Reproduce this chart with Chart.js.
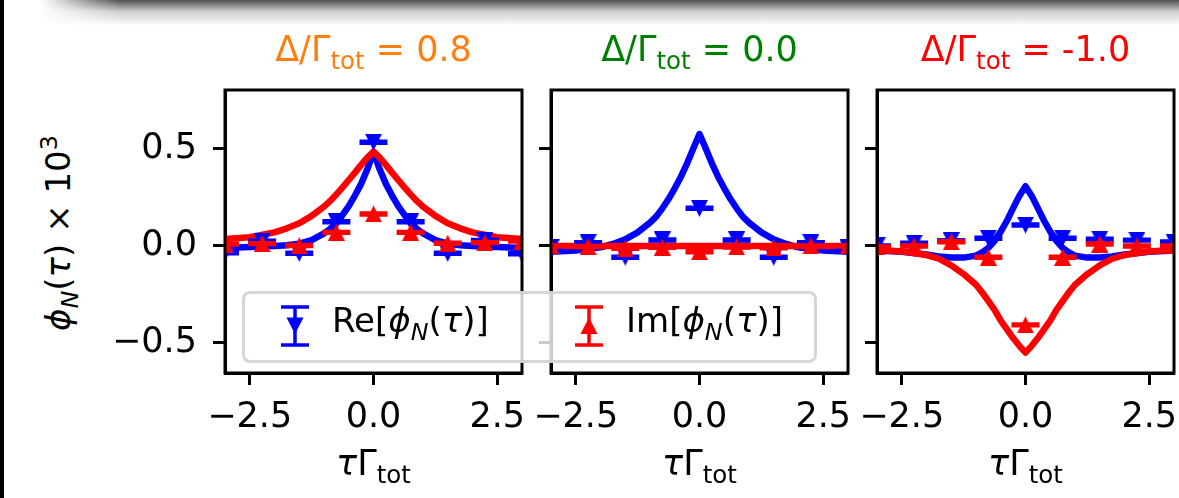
<!DOCTYPE html>
<html>
<head>
<meta charset="utf-8">
<title>phi_N(tau) vs tau Gamma_tot</title>
<script src="https://cdn.jsdelivr.net/npm/chart.js"></script>
<style>
    body { margin:0; width:1179px; height:498px; overflow:hidden; background:#fff; position:relative; font-family:'DejaVu Sans', sans-serif; color:#000; }
    canvas { position:absolute; top:0; }
    .edge { position:absolute; left:0; top:0; width:4px; height:498px; background:#000; }
    .shadow { position:absolute; left:40px; top:0; width:1139px; height:26px;
              background:linear-gradient(to bottom, rgba(60,60,60,0.9), rgba(160,160,160,0.5) 45%, rgba(255,255,255,0));
              -webkit-mask-image:linear-gradient(to right, transparent, #000 80px); }
    .title, .xlab { position:absolute; font-size:35px; line-height:35px; white-space:nowrap; transform:translateX(-50%); }
    .title { top:32px; }
    .xlab { top:446px; }
    .sub { font-size:0.7em; position:relative; top:0.32em; }
    .ylab { position:absolute; left:60px; top:233px; font-size:34px; line-height:34px; white-space:nowrap;
            transform:translate(-50%,-50%) rotate(-90deg); }
    .sup { font-size:0.7em; position:relative; top:-0.55em; }
    .legend { position:absolute; left:242px; top:291px; width:575px; height:72px; box-sizing:border-box;
              border:3px solid rgba(204,204,204,0.8); border-radius:8px; background:rgba(255,255,255,0.8); z-index:5; }
    .legend svg { position:absolute; top:11px; }
    .legend .lt { position:absolute; top:9px; font-size:34px; line-height:34px; white-space:nowrap; }
</style>
</head>
<body>
<div class="edge"></div>
<div class="shadow"></div>
<div class="ylab"><i>ϕ</i><i class="sub">N</i>(<i>τ</i>) × 10<span class="sup">3</span></div>
<div class="legend">
    <svg style="left:36px" width="28" height="42">
        <g stroke="#0000ff" stroke-width="3.5"><line x1="14" y1="2" x2="14" y2="40"/><line x1="0" y1="2" x2="28" y2="2"/><line x1="0" y1="40" x2="28" y2="40"/></g>
        <polygon points="5.5,12.5 22.5,12.5 14,29" fill="#0000ff"/>
    </svg>
    <span class="lt" style="left:87px">Re[<i>ϕ</i><i class="sub">N</i>(<i>τ</i>)]</span>
    <svg style="left:330px" width="28" height="42">
        <g stroke="#ff0000" stroke-width="3.5"><line x1="14" y1="2" x2="14" y2="40"/><line x1="0" y1="2" x2="28" y2="2"/><line x1="0" y1="40" x2="28" y2="40"/></g>
        <polygon points="14,12.5 5.5,29 22.5,29" fill="#ff0000"/>
    </svg>
    <span class="lt" style="left:381px">Im[<i>ϕ</i><i class="sub">N</i>(<i>τ</i>)]</span>
</div>
<script>
    // Valeurs (unités : tau*Gamma_tot, phi_N * 1e3)
    const detuning = [0.8, 0.0, -1.0];
    const xTicks = [-2.5, 0, 2.5];
    const xTickLabels = ['\u22122.5', '0.0', '2.5'];
    const yTicks = [-0.5, 0, 0.5];
    const yTickLabels = ['\u22120.5', '0.0', '0.5'];

    // courbes théoriques
    const xFit = [-3, -2.5, -2, -1.75, -1.5, -1.25, -1, -0.875, -0.75, -0.625, -0.5, -0.375, -0.25, -0.125, 0,
                  0.125, 0.25, 0.375, 0.5, 0.625, 0.75, 0.875, 1, 1.25, 1.5, 1.75, 2, 2.5, 3];
    const reFit1 = [-0.01, -0.005, 0.0, 0.004, 0.012, 0.03, 0.065, 0.088, 0.12, 0.16, 0.205, 0.26, 0.32, 0.395, 0.485,
                    0.395, 0.32, 0.26, 0.205, 0.16, 0.12, 0.088, 0.065, 0.03, 0.012, 0.004, 0.0, -0.005, -0.01];
    const imFit1 = [0.036, 0.045, 0.07, 0.091, 0.117, 0.155, 0.203, 0.232, 0.266, 0.302, 0.34, 0.378, 0.418, 0.455, 0.486,
                    0.455, 0.418, 0.378, 0.34, 0.302, 0.266, 0.232, 0.203, 0.155, 0.117, 0.091, 0.07, 0.045, 0.036];
    const reFit2 = [-0.03, -0.024, -0.007, 0.01, 0.034, 0.07, 0.12, 0.151, 0.194, 0.242, 0.297, 0.357, 0.426, 0.503, 0.577,
                    0.503, 0.426, 0.357, 0.297, 0.242, 0.194, 0.151, 0.12, 0.07, 0.034, 0.01, -0.007, -0.024, -0.03];
    const imFit2 = [0, 0, 0, 0, 0, 0, 0, 0, 0, 0, 0, 0, 0, 0, 0,
                    0, 0, 0, 0, 0, 0, 0, 0, 0, 0, 0, 0, 0, 0];
    const reFit3 = [-0.023, -0.03, -0.044, -0.054, -0.06, -0.06, -0.05, -0.033, -0.01, 0.026, 0.074, 0.13, 0.195, 0.258, 0.308,
                    0.258, 0.195, 0.13, 0.074, 0.026, -0.01, -0.033, -0.05, -0.06, -0.06, -0.054, -0.044, -0.03, -0.023];
    const imFit3 = [-0.02, -0.028, -0.047, -0.066, -0.1, -0.145, -0.2, -0.24, -0.285, -0.33, -0.385, -0.43, -0.475, -0.515, -0.55,
                    -0.515, -0.475, -0.43, -0.385, -0.33, -0.285, -0.24, -0.2, -0.145, -0.1, -0.066, -0.047, -0.028, -0.02];

    // points simulés + barres d'erreur
    const xData = [-3, -2.25, -1.5, -0.75, 0, 0.75, 1.5, 2.25, 3];
    const reData1 = [-0.035, 0.025, -0.038, 0.125, 0.535, 0.125, -0.038, 0.028, -0.04];
    const imData1 = [0.01, 0.012, 0.002, 0.07, 0.165, 0.07, 0.014, 0.017, 0.025];
    const reData2 = [-0.01, 0.017, -0.058, 0.031, 0.194, 0.031, -0.058, 0.017, -0.01];
    const imData2 = [0.0, -0.003, -0.012, -0.007, -0.03, -0.005, -0.01, 0.0, 0.0];
    const reData3 = [0.0, 0.014, 0.027, 0.04, 0.108, 0.04, 0.035, 0.03, 0.02];
    const imData3 = [-0.005, 0.0, 0.022, -0.058, -0.407, -0.058, 0.01, 0.0, 0.0];
    const reErr1 = [0.005, 0.005, 0.005, 0.005, 0.005, 0.005, 0.005, 0.005, 0.005];
    const imErr1 = [0.005, 0.005, 0.005, 0.005, 0.005, 0.005, 0.005, 0.005, 0.005];
    const reErr2 = [0.005, 0.005, 0.005, 0.005, 0.005, 0.005, 0.005, 0.005, 0.005];
    const imErr2 = [0.005, 0.005, 0.005, 0.005, 0.005, 0.005, 0.005, 0.005, 0.005];
    const reErr3 = [0.005, 0.005, 0.005, 0.005, 0.005, 0.005, 0.005, 0.005, 0.005];
    const imErr3 = [0.005, 0.005, 0.005, 0.005, 0.005, 0.005, 0.005, 0.005, 0.005];

    const panels = [
        {reFit: reFit1, imFit: imFit1, reData: reData1, imData: imData1, reErr: reErr1, imErr: imErr1},
        {reFit: reFit2, imFit: imFit2, reData: reData2, imData: imData2, reErr: reErr2, imErr: imErr2},
        {reFit: reFit3, imFit: imFit3, reData: reData3, imData: imData3, reErr: reErr3, imErr: imErr3}
    ];

    // mise en page
    const BLUE = '#0000ff', RED = '#ff0000';
    const titleColors = ['#ff7f0e', '#008000', '#ff0000'];
    const plotLefts = [225, 551, 877];
    const PLOT_W = 297, PLOT_TOP = 90, PLOT_BOTTOM = 373, AXIS_W = 130, PAD_R = 40, H = 498;

    Chart.defaults.font.family = "'DejaVu Sans', sans-serif";
    Chart.defaults.font.size = 35;
    Chart.defaults.color = '#000';

    // marqueurs triangle façon matplotlib (centrés sur la boîte englobante)
    function triangle(color, up) {
        const c = document.createElement('canvas');
        c.width = 17; c.height = 17;
        const g = c.getContext('2d');
        g.fillStyle = color;
        g.beginPath();
        if (up) { g.moveTo(8.5, 0); g.lineTo(17, 17); g.lineTo(0, 17); }
        else { g.moveTo(0, 0); g.lineTo(17, 0); g.lineTo(8.5, 17); }
        g.closePath();
        g.fill();
        return c;
    }
    const triDown = triangle(BLUE, false);
    const triUp = triangle(RED, true);

    const errorBars = {
        id: 'errorBars',
        beforeDatasetDraw(chart, args) {
            const ds = chart.data.datasets[args.index];
            if (!ds.errors) return;
            const {ctx, chartArea: a, scales: {x, y}} = chart;
            ctx.save();
            ctx.beginPath();
            ctx.rect(a.left, a.top, a.right - a.left, a.bottom - a.top);
            ctx.clip();
            ctx.strokeStyle = ds.errColor;
            ctx.lineWidth = 3.5;
            ds.data.forEach((p, i) => {
                const px = x.getPixelForValue(p.x);
                const y0 = y.getPixelForValue(p.y - ds.errors[i]);
                const y1 = y.getPixelForValue(p.y + ds.errors[i]);
                ctx.beginPath();
                ctx.moveTo(px, y0); ctx.lineTo(px, y1);
                ctx.moveTo(px - 14, y0); ctx.lineTo(px + 14, y0);
                ctx.moveTo(px - 14, y1); ctx.lineTo(px + 14, y1);
                ctx.stroke();
            });
            ctx.restore();
        }
    };
    const frame = {
        id: 'frame',
        afterDraw(chart) {
            const {ctx, chartArea: a} = chart;
            ctx.save();
            ctx.strokeStyle = '#000';
            ctx.lineWidth = 3;
            ctx.strokeRect(a.left, a.top, a.right - a.left, a.bottom - a.top);
            ctx.restore();
        }
    };

    function curve(xs, ys, color, order) {
        return {data: xs.map((x, i) => ({x: x, y: ys[i]})), borderColor: color, borderWidth: 6.5,
                pointRadius: 0, tension: 0, fill: false, clip: 0, order: order, borderJoinStyle: 'round'};
    }
    function points(xs, ys, errs, color, img, order) {
        return {data: xs.map((x, i) => ({x: x, y: ys[i]})), showLine: false, pointStyle: img, pointRadius: 8,
                errors: errs, errColor: color, borderColor: color, backgroundColor: color, clip: 0, order: order};
    }

    panels.forEach((p, k) => {
        const canvas = document.createElement('canvas');
        const w = AXIS_W + PLOT_W + PAD_R;
        canvas.width = w; canvas.height = H;
        canvas.style.left = (plotLefts[k] - AXIS_W) + 'px';
        canvas.style.width = w + 'px'; canvas.style.height = H + 'px';
        document.body.appendChild(canvas);

        new Chart(canvas, {
            type: 'line',
            data: {
                datasets: [
                    curve(xFit, p.reFit, BLUE, 4),
                    curve(xFit, p.imFit, RED, 3),
                    points(xData, p.reData, p.reErr, BLUE, triDown, 2),
                    points(xData, p.imData, p.imErr, RED, triUp, 1)
                ]
            },
            options: {
                responsive: false,
                devicePixelRatio: 1,
                animation: false,
                events: [],
                layout: {padding: {top: PLOT_TOP, right: PAD_R, left: 0, bottom: 0}},
                plugins: {legend: {display: false}, tooltip: {enabled: false}},
                scales: {
                    x: {
                        type: 'linear', min: -3, max: 3,
                        afterBuildTicks: ax => { ax.ticks = xTicks.map(v => ({value: v})); },
                        afterFit: ax => { ax.height = H - PLOT_BOTTOM; },
                        ticks: {padding: 12, maxRotation: 0, callback: (v, i) => xTickLabels[i]},
                        grid: {drawOnChartArea: false, drawTicks: true, tickLength: 12, tickWidth: 3, tickColor: '#000'},
                        border: {display: true, color: '#000', width: 3}
                    },
                    y: {
                        type: 'linear', min: -0.655, max: 0.804,
                        afterBuildTicks: ax => { ax.ticks = yTicks.map(v => ({value: v})); },
                        afterFit: ax => { ax.width = AXIS_W; },
                        ticks: {padding: 16, callback: (v, i) => (k === 0 ? yTickLabels[i] : '')},
                        grid: {drawOnChartArea: false, drawTicks: true, tickLength: 12, tickWidth: 3, tickColor: '#000'},
                        border: {display: true, color: '#000', width: 3}
                    }
                }
            },
            plugins: [errorBars, frame]
        });

        const cx = plotLefts[k] + PLOT_W / 2;
        const t = document.createElement('div');
        t.className = 'title';
        t.style.left = cx + 'px';
        t.style.color = titleColors[k];
        t.innerHTML = 'Δ/Γ<span class="sub">tot</span> = ' + detuning[k].toFixed(1);
        document.body.appendChild(t);

        const xl = document.createElement('div');
        xl.className = 'xlab';
        xl.style.left = cx + 'px';
        xl.innerHTML = '<i>τ</i>Γ<span class="sub">tot</span>';
        document.body.appendChild(xl);
    });
</script>
</body>
</html>
